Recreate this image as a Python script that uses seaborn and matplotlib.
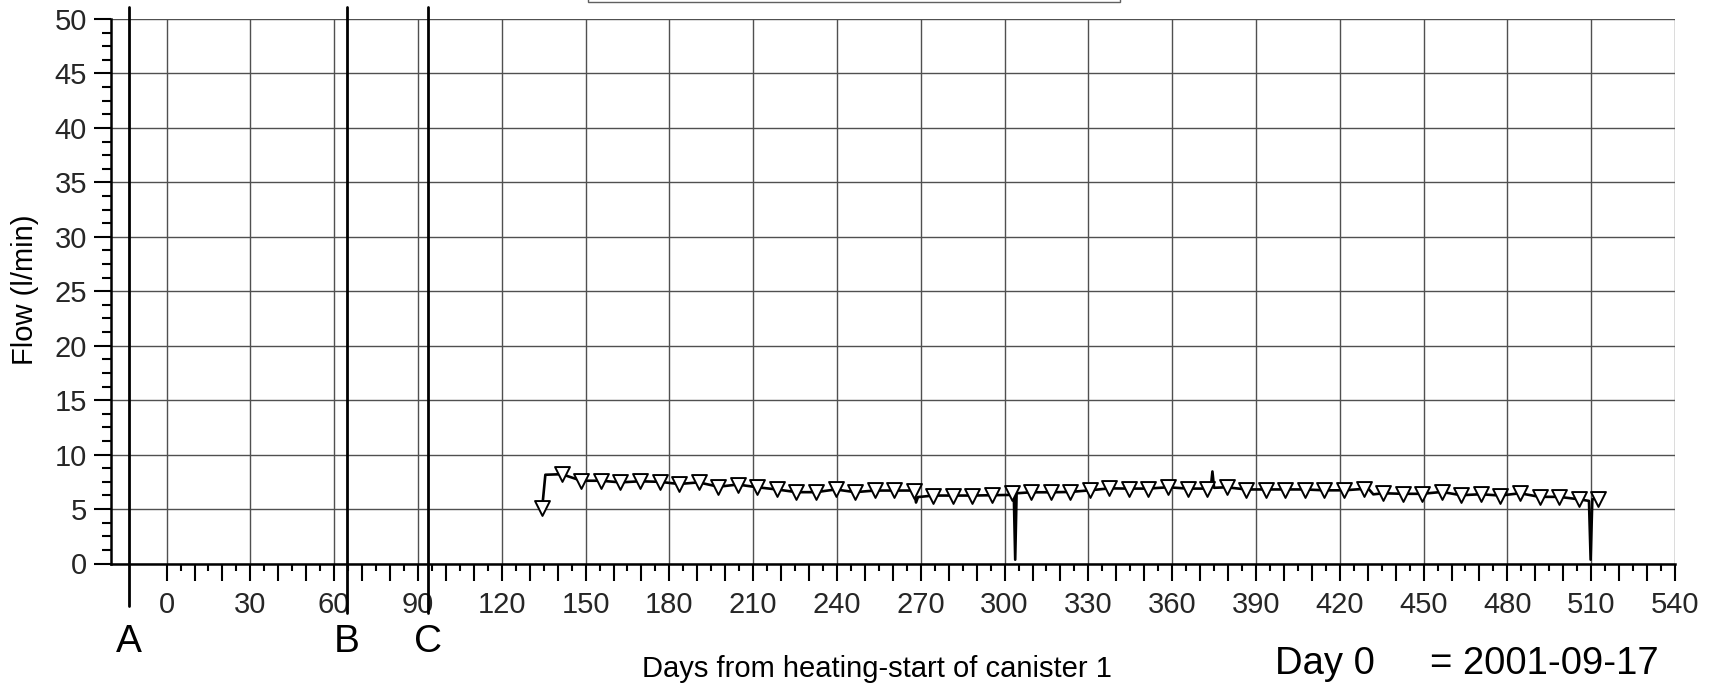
import numpy as np
import pandas as pd
import matplotlib
matplotlib.use("Agg")
import matplotlib.pyplot as plt
import matplotlib.patches as mpatches
import seaborn as sns

# ---- data ----
line_days = [134.5, 135.6, 141.5, 148.5, 155.5, 162.5, 169.5, 176.5, 183.5, 190.5,
             197.5, 204.5, 211.5, 218.5, 225.5, 232.5, 239.5, 246.5, 253.5, 260.5,
             267.5, 268.3, 269.0, 274.5, 281.5, 288.5, 295.5, 302.5, 303.3, 303.8,
             304.3, 309.5, 316.5, 323.5, 330.5, 337.5, 344.5, 351.5, 358.5, 365.5,
             372.5, 373.8, 374.4, 375.0, 379.5, 386.5, 393.5, 400.5, 407.5, 414.5,
             421.5, 428.5, 430.5, 432.0, 435.5, 442.5, 449.5, 456.5, 463.5, 470.5,
             477.5, 484.5, 491.5, 498.5, 505.5, 509.2, 509.8, 510.4, 512.5]
line_flow = [5.2, 8.15, 8.2, 7.6, 7.6, 7.45, 7.55, 7.5, 7.3, 7.45,
             7.05, 7.25, 7.0, 6.8, 6.55, 6.55, 6.8, 6.55, 6.7, 6.7,
             6.7, 5.6, 6.1, 6.24, 6.24, 6.24, 6.27, 6.3, 6.3, 0.35,
             6.45, 6.54, 6.54, 6.57, 6.72, 6.9, 6.88, 6.88, 7.0, 6.88,
             6.88, 6.9, 8.45, 6.95, 7.0, 6.8, 6.8, 6.8, 6.8, 6.72,
             6.72, 6.85, 6.8, 6.35, 6.45, 6.4, 6.4, 6.57, 6.27, 6.36,
             6.24, 6.45, 6.12, 6.12, 5.9, 5.75, 0.35, 5.9, 6.0]

marker_days = [134.5, 141.5, 148.5, 155.5, 162.5, 169.5, 176.5, 183.5, 190.5, 197.5,
               204.5, 211.5, 218.5, 225.5, 232.5, 239.5, 246.5, 253.5, 260.5, 267.5,
               274.5, 281.5, 288.5, 295.5, 302.5, 309.5, 316.5, 323.5, 330.5, 337.5,
               344.5, 351.5, 358.5, 365.5, 372.5, 379.5, 386.5, 393.5, 400.5, 407.5,
               414.5, 421.5, 428.5, 435.5, 442.5, 449.5, 456.5, 463.5, 470.5, 477.5,
               484.5, 491.5, 498.5, 505.5, 512.5]
marker_flow = [5.1, 8.25, 7.6, 7.6, 7.45, 7.55, 7.5, 7.3, 7.45, 7.05,
               7.25, 7.0, 6.8, 6.55, 6.57, 6.8, 6.57, 6.72, 6.72, 6.7,
               6.24, 6.24, 6.24, 6.27, 6.48, 6.54, 6.54, 6.57, 6.72, 6.9,
               6.88, 6.88, 7.0, 6.88, 6.88, 7.0, 6.79, 6.79, 6.79, 6.79,
               6.72, 6.72, 6.85, 6.48, 6.39, 6.39, 6.57, 6.27, 6.36, 6.24,
               6.48, 6.12, 6.12, 5.9, 5.95]

event_days = [-13.4, 64.5, 93.6]
event_labels = ["A", "B", "C"]

x_major = list(range(0, 541, 30))
y_major = list(range(0, 51, 5))

line_df = pd.DataFrame({"day": line_days, "flow": line_flow})
mark_df = pd.DataFrame({"day": marker_days, "flow": marker_flow})

# ---- figure ----
sns.set_theme(style="white")
plt.rcParams["font.family"] = ["Liberation Sans", "DejaVu Sans"]
plt.rcParams["axes.unicode_minus"] = False

W, H = 1712, 688
fig = plt.figure(figsize=(W / 100, H / 100), dpi=100)
ax = fig.add_axes([110.7 / W, 1 - 563.5 / H, (1675 - 110.7) / W, (563.5 - 19) / H])
ax.set_facecolor("white")

sns.lineplot(data=line_df, x="day", y="flow", ax=ax, color="black", lw=1.9,
             sort=False, estimator=None, zorder=4)
sns.scatterplot(data=mark_df, x="day", y="flow", ax=ax, marker="v", s=115,
                facecolor="white", edgecolor="black", linewidth=1.4, zorder=5)

ax.set_xlim(-20, 540)
ax.set_ylim(0, 50)

ax.set_xticks(x_major)
ax.set_xticklabels([str(v) for v in x_major])
ax.set_xticks([v for v in range(10, 541, 10) if v % 30], minor=True)
ax.set_yticks(y_major)
ax.set_yticklabels([str(v) for v in y_major])
ax.set_yticks(np.arange(0, 50.01, 1.25), minor=True)

ax.tick_params(axis="x", which="major", direction="out", length=12, width=1.5,
               labelsize=21, pad=7.5, color="black", bottom=True)
ax.tick_params(axis="x", which="minor", direction="out", length=12, width=1.5,
               color="black", bottom=True)
ax.tick_params(axis="y", which="major", direction="out", length=12, width=1.5,
               labelsize=21, pad=5, color="black", left=True)
ax.tick_params(axis="y", which="minor", direction="out", length=6.5, width=1.5,
               color="black", left=True)

sec = ax.secondary_xaxis("bottom")
sec.set_xticks([v for v in range(5, 541, 10)])
sec.tick_params(axis="x", which="major", direction="out", length=5, width=1.5,
                labelbottom=False, color="black")
sec.spines["bottom"].set_visible(False)

ax.grid(True, which="major", color="#505050", lw=1.0)
for s in ["top", "right"]:
    ax.spines[s].set_visible(False)
for s in ["left", "bottom"]:
    ax.spines[s].set_color("black")
    ax.spines[s].set_linewidth(1.8)

ax.set_xlabel("")
ax.set_ylabel("")

# event lines A, B, C extending outside the axes
bottoms = [-3.9, -4.5, -4.5]
for d, lab, b in zip(event_days, event_labels, bottoms):
    ax.plot([d, d], [b, 51.1], color="black", lw=2.0, clip_on=False, zorder=6)
    ax.text(d, -7.2, lab, ha="center", va="center", fontsize=28,
            color="black", clip_on=False)

fig.text(25 / W, 1 - 290 / H, "Flow (l/min)", rotation=90, ha="center",
         va="center", fontsize=21, color="black")
fig.text(877 / W, 1 - 669 / H, "Days from heating-start of canister 1",
         ha="center", va="center", fontsize=21, color="black")
fig.text(1275 / W, 1 - 664 / H, "Day 0", ha="left", va="center",
         fontsize=27.5, color="black")
fig.text(1430 / W, 1 - 664 / H, "= 2001-09-17", ha="left", va="center",
         fontsize=27.5, color="black")

# legend box cut off at top edge
rect = mpatches.Rectangle((588 / W, 1 - 1.5 / H), (1120 - 588) / W, 0.06,
                          transform=fig.transFigure, facecolor="white",
                          edgecolor="#606060", lw=1.0, clip_on=False)
fig.patches.append(rect)

fig.savefig("out.png", dpi=100, facecolor="white")
